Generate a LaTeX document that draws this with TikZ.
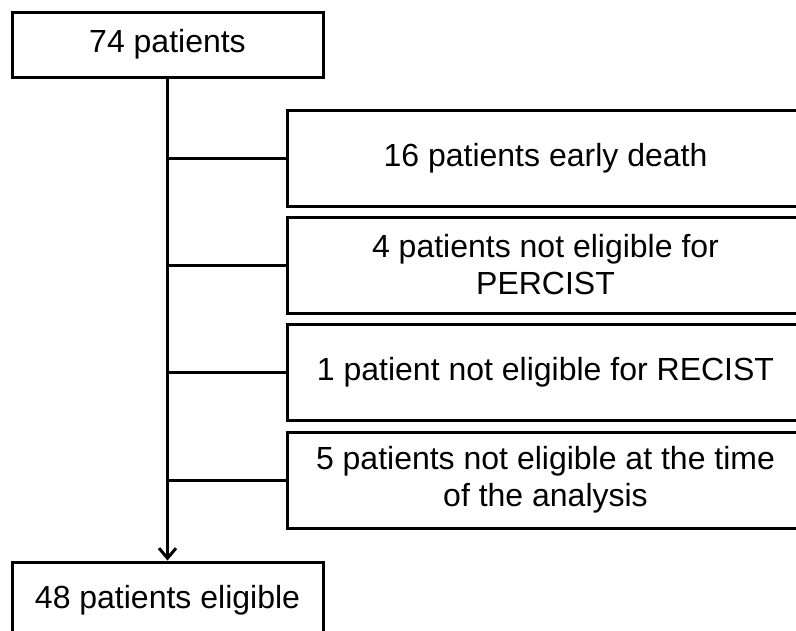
\documentclass[tikz,border=0pt]{standalone}
\usepackage{fontspec}
\setmainfont{Liberation Sans}
\usetikzlibrary{arrows.meta,positioning}
\tikzset{
  box/.style={rectangle, draw=black, fill=white, line width=3pt,
              align=center, inner sep=0pt, font=\fontsize{32}{37}\selectfont},
  mainbox/.style={box, minimum width=311pt, minimum height=65pt},
  exbox/.style={box, minimum width=517pt, minimum height=96pt},
  flow/.style={-{Straight Barb[length=10pt,width=17pt]}, draw=black, line width=3pt},
  branch/.style={draw=black, line width=3pt},
}
\begin{document}
\begin{tikzpicture}[x=1pt,y=-1pt]
\useasboundingbox (0,0) rectangle (796,630);
\clip (0,0) rectangle (796,630);

\node[mainbox] (all) at (167.5,44.5) {74 patients};
\node[mainbox, minimum height=76pt] (elig) at (167.5,600) {48 patients eligible};

\node[exbox] (death)   at (545.5,158)   {16 patients early death};
\node[exbox] (percist) at (545.5,265)   {4 patients not eligible for\\PERCIST};
\node[exbox] (recist)  at (545.5,372.5) {1 patient not eligible for RECIST};
\node[exbox] (late)    at (545.5,480)   {5 patients not eligible at the time\\of the analysis};

\draw[flow] (all.south) -- (elig.north);
\foreach \n in {death,percist,recist,late} \draw[branch] (all.south |- \n.west) -- (\n.west);
\end{tikzpicture}
\end{document}
